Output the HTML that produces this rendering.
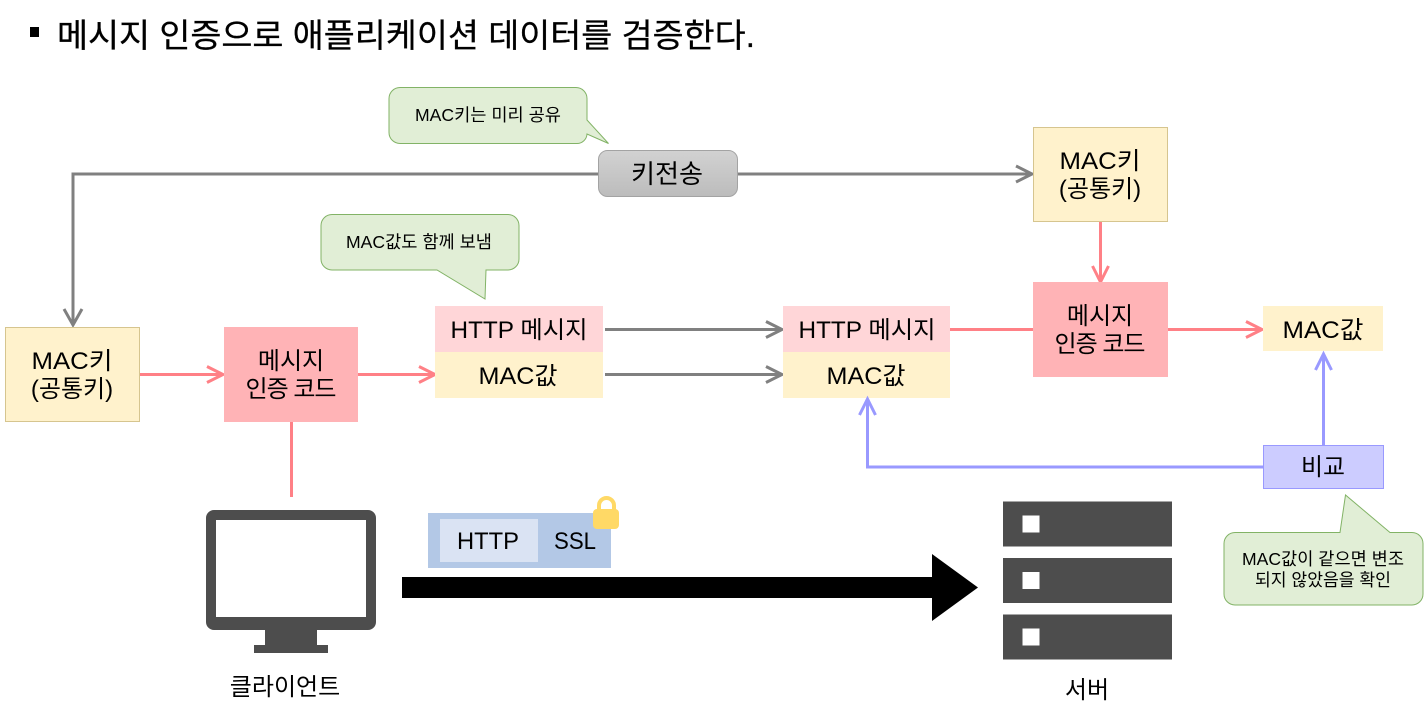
<!DOCTYPE html>
<html lang="ko"><head><meta charset="utf-8"><style>
html,body{margin:0;padding:0;background:#fff;width:1424px;height:728px;overflow:hidden}
svg{display:block}
text{font-family:"Liberation Sans","Noto Sans CJK KR",sans-serif;fill:#000;text-anchor:middle}
.l{fill:none;stroke-width:3}
.r{stroke:#ff8086}.g{stroke:#808080}.b{stroke:#9999ff}
.c{fill:#e1eed6;stroke:#82b366;stroke-width:1}
</style></head><body>
<svg width="1424" height="728" viewBox="0 0 1424 728" xmlns="http://www.w3.org/2000/svg">
<defs><linearGradient id="gr" x1="0" y1="0" x2="0" y2="1"><stop offset="0" stop-color="#d2d2d2"/><stop offset="1" stop-color="#bcbcbc"/></linearGradient></defs>
<rect x="30" y="27" width="9" height="10" fill="#000"/>
<text x="57" y="47" font-size="33" style="text-anchor:start;stroke:#000;stroke-width:.3" textLength="698" lengthAdjust="spacingAndGlyphs">메시지 인증으로 애플리케이션 데이터를 검증한다.</text>

<path class="c" d="M400 87.500H576a11 11 0 0 1 11 11V120L608.500 143.500L587 134V134a10 10 0 0 1-10 9.500H400a11 11 0 0 1-11-11V98.500a11 11 0 0 1 11-11Z"/>
<text x="488" y="121" font-size="17.500" textLength="146" lengthAdjust="spacingAndGlyphs">MAC키는 미리 공유</text>

<path class="l g" d="M598 174H73V325"/>
<path class="l g" d="M64 309L73 325L82 309"/>
<path class="l g" d="M737 174H1031"/>
<path class="l g" d="M1016 166L1032 174L1016 182"/>
<rect x="598.500" y="150.500" width="139" height="46" rx="9" fill="url(#gr)" stroke="#a3a3a3"/>
<text x="667" y="183" font-size="26" textLength="72" lengthAdjust="spacingAndGlyphs">키전송</text>

<rect x="1033.500" y="127.500" width="134" height="94" fill="#fff2cc" stroke="#d6c58f"/>
<text x="1100" y="169" font-size="24" textLength="81" lengthAdjust="spacingAndGlyphs">MAC키</text>
<text x="1100" y="197" font-size="24">(공통키)</text>

<path class="l r" d="M1100.500 222V281"/>
<path class="l r" d="M1092.500 266L1100.500 282L1108.500 266"/>
<rect x="1033" y="282" width="135" height="95" fill="#ffb3b6"/>
<text x="1100" y="324" font-size="24">메시지</text>
<text x="1100" y="352" font-size="24" textLength="91">인증 코드</text>

<path class="c" d="M332 214.500H508a11 11 0 0 1 11 11V259a11 11 0 0 1-11 11H486L485 299L437 270H332a11 11 0 0 1-11-11V225.500a11 11 0 0 1 11-11Z"/>
<text x="419" y="248" font-size="17.500" textLength="146" lengthAdjust="spacingAndGlyphs">MAC값도 함께 보냄</text>

<rect x="5.500" y="327.500" width="134" height="94" fill="#fff2cc" stroke="#d6c58f"/>
<text x="72" y="369" font-size="24" textLength="81" lengthAdjust="spacingAndGlyphs">MAC키</text>
<text x="72" y="397" font-size="24">(공통키)</text>

<path class="l r" d="M140 374.500H222"/>
<path class="l r" d="M207 366.500L223 374.500L207 382.500"/>
<rect x="224" y="327" width="134" height="95" fill="#ffb3b6"/>
<text x="291" y="369" font-size="24">메시지</text>
<text x="291" y="397" font-size="24" textLength="91">인증 코드</text>

<path class="l r" d="M358 374.500H434"/>
<path class="l r" d="M419 366.500L435 374.500L419 382.500"/>
<rect x="435" y="306" width="168" height="46" fill="#ffd6d8"/>
<rect x="435" y="352" width="168" height="46" fill="#fff2cc"/>
<text x="519" y="338" font-size="24" textLength="137" lengthAdjust="spacingAndGlyphs">HTTP 메시지</text>
<text x="518" y="384" font-size="24" textLength="79" lengthAdjust="spacingAndGlyphs">MAC값</text>

<path class="l g" d="M605 329.500H781"/>
<path class="l g" d="M766 321.500L782 329.500L766 337.500"/>
<path class="l g" d="M605 374.500H781"/>
<path class="l g" d="M766 366.500L782 374.500L766 382.500"/>
<rect x="783" y="306" width="167" height="46" fill="#ffd6d8"/>
<rect x="783" y="352" width="167" height="46" fill="#fff2cc"/>
<text x="867" y="338" font-size="24" textLength="137" lengthAdjust="spacingAndGlyphs">HTTP 메시지</text>
<text x="866" y="384" font-size="24" textLength="79" lengthAdjust="spacingAndGlyphs">MAC값</text>

<path class="l r" d="M950 329.500H1033"/>
<path class="l r" d="M1168 329.500H1261"/>
<path class="l r" d="M1246 321.500L1262 329.500L1246 337.500"/>
<rect x="1263" y="306" width="120" height="45" fill="#fff2cc"/>
<text x="1323" y="338" font-size="24" textLength="81" lengthAdjust="spacingAndGlyphs">MAC값</text>

<path class="l b" d="M1263 467H867.500V400"/>
<path class="l b" d="M859.500 415L867.500 399L875.500 415"/>
<path class="l b" d="M1323.500 445V355"/>
<path class="l b" d="M1315.500 370L1323.500 354L1331.500 370"/>
<rect x="1263.500" y="445.500" width="120" height="43" fill="#ccccff" stroke="#9999ff"/>
<text x="1323" y="475" font-size="24" textLength="44" lengthAdjust="spacingAndGlyphs">비교</text>

<path class="c" d="M1235 532.500H1340L1345.500 495L1390 532.500H1412a11 11 0 0 1 11 11V594a11 11 0 0 1-11 11H1235a11 11 0 0 1-11-11V543.500a11 11 0 0 1 11-11Z"/>
<text x="1323" y="565" font-size="17.500" textLength="162" lengthAdjust="spacingAndGlyphs">MAC값이 같으면 변조</text>
<text x="1323" y="586" font-size="17.500" textLength="136" lengthAdjust="spacingAndGlyphs">되지 않았음을 확인</text>

<path class="l r" d="M291.500 422V497"/>

<path fill="#4d4d4d" d="M214 510H368a8 8 0 0 1 8 8V622a8 8 0 0 1-8 8H317V645H328V653H254V645H265V630H214a8 8 0 0 1-8-8V518a8 8 0 0 1 8-8Z"/>
<rect x="216" y="520" width="150" height="97" fill="#fff"/>
<text x="285" y="695" font-size="24">클라이언트</text>

<rect x="428" y="513" width="183" height="55" fill="#b3c8e6"/>
<rect x="440" y="519" width="98" height="43" fill="#dae3f3"/>
<text x="488" y="549" font-size="24" textLength="62" lengthAdjust="spacingAndGlyphs">HTTP</text>
<text x="575" y="549" font-size="24" textLength="42" lengthAdjust="spacingAndGlyphs">SSL</text>
<path d="M599 516V505.500a7.500 7.500 0 0 1 15 0V516" fill="none" stroke="#ffd966" stroke-width="4"/>
<rect x="593" y="509" width="26" height="20" rx="4" fill="#ffd966"/>

<path fill="#000" d="M402 577H932V554L978 587.500L932 621V598H402Z"/>

<g fill="#4d4d4d">
<rect x="1003" y="501.500" width="169" height="45"/>
<rect x="1003" y="558" width="169" height="45"/>
<rect x="1003" y="614.500" width="169" height="45"/>
</g>
<g fill="#fff">
<rect x="1022.500" y="515.500" width="17" height="17"/>
<rect x="1022.500" y="572" width="17" height="17"/>
<rect x="1022.500" y="628.500" width="17" height="17"/>
</g>
<text x="1087" y="698" font-size="24">서버</text>
</svg>
</body></html>
